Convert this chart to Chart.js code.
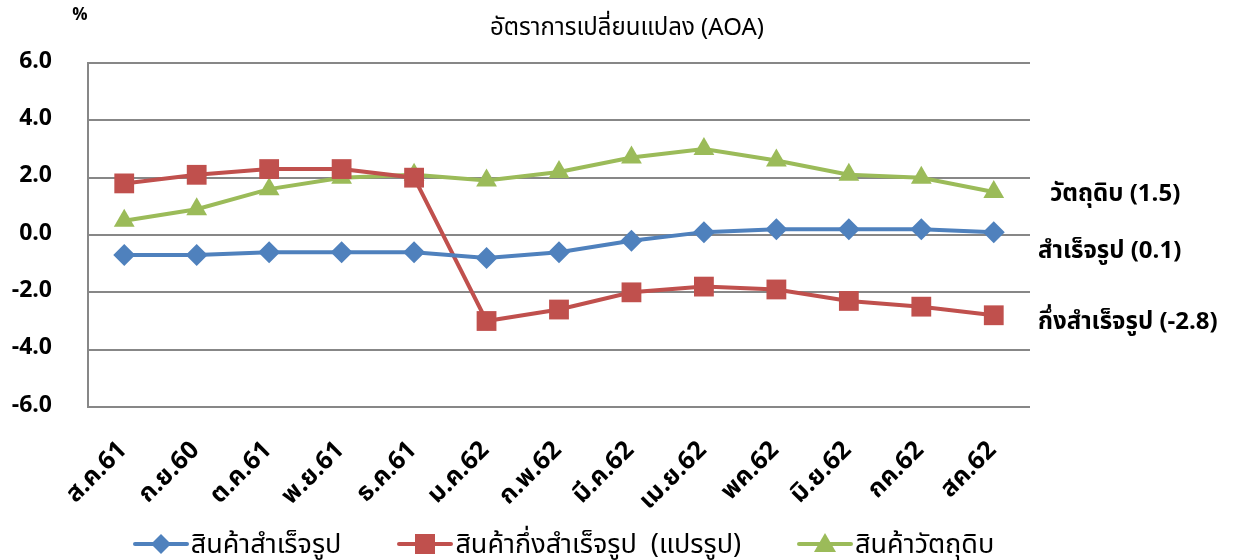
<!DOCTYPE html>
<html>
<head>
<meta charset="utf-8">
<script src="https://cdn.jsdelivr.net/npm/chart.js@4"></script>
<style>
  html, body { margin: 0; padding: 0; background: #fff; }
  #wrap { position: relative; width: 1239px; height: 560px; }
  #legend {
    position: absolute; left: 0; right: 0; top: 527px; height: 34px;
    display: flex; justify-content: center; align-items: center; gap: 56px;
    font-family: 'Noto Sans Thai', 'Noto Sans', 'DejaVu Sans', sans-serif;
    font-size: 27px; color: #000; padding-right: 112px;
  }
  .lg-item { display: flex; align-items: center; gap: 2px; white-space: pre; }
  .lg-item canvas { display: block; }
</style>
</head>
<body>
<div id="wrap">
  <canvas id="c" width="1239" height="560"></canvas>
  <div id="legend"></div>
</div>
<script>
/* ── ข้อมูล ── */
const months = ['ส.ค.61', 'ก.ย.60', 'ต.ค.61', 'พ.ย.61', 'ธ.ค.61', 'ม.ค.62', 'ก.พ.62',
  'มี.ค.62', 'เม.ย.62', 'พค.62', 'มิ.ย.62', 'กค.62', 'สค.62'];
const finished = [-0.7, -0.7, -0.6, -0.6, -0.6, -0.8, -0.6, -0.2, 0.1, 0.2, 0.2, 0.2, 0.1];
const semiFinished = [1.8, 2.1, 2.3, 2.3, 2.0, -3.0, -2.6, -2.0, -1.8, -1.9, -2.3, -2.5, -2.8];
const rawMaterial = [0.5, 0.9, 1.6, 2.0, 2.1, 1.9, 2.2, 2.7, 3.0, 2.6, 2.1, 2.0, 1.5];
const seriesNames = ['สินค้าสำเร็จรูป', 'สินค้ากึ่งสำเร็จรูป  (แปรรูป)', 'สินค้าวัตถุดิบ'];
const endLabels = ['สำเร็จรูป (0.1)', 'กึ่งสำเร็จรูป (-2.8)', 'วัตถุดิบ (1.5)'];
const yTicks = [-6, -4, -2, 0, 2, 4, 6];

const FONT = "'Noto Sans Thai', 'Noto Sans', 'DejaVu Sans', sans-serif";
const BLUE = '#4F81BD', RED = '#C0504D', GREEN = '#9BBB59', GRID = '#878787';

// ไอคอน legend: เส้น + marker
function legendIcon(color, shape) {
  const cv = document.createElement('canvas');
  cv.width = 56; cv.height = 24;
  const g = cv.getContext('2d');
  g.strokeStyle = color; g.lineWidth = 4; g.lineCap = 'round';
  g.beginPath(); g.moveTo(2, 12); g.lineTo(54, 12); g.stroke();
  g.fillStyle = color;
  g.beginPath();
  if (shape === 'rectRot') {
    g.moveTo(28, 2); g.lineTo(38, 12); g.lineTo(28, 22); g.lineTo(18, 12);
  } else if (shape === 'rect') {
    g.rect(18, 2, 20, 20);
  } else {
    g.moveTo(28, 1); g.lineTo(39, 20); g.lineTo(17, 20);
  }
  g.closePath(); g.fill();
  return cv;
}

// หัวเรื่อง, % และป้ายท้ายเส้น
const annotations = {
  id: 'annotations',
  afterDraw(chart) {
    const ctx = chart.ctx;
    const y = chart.scales.y;
    const right = chart.chartArea.right;
    ctx.save();
    ctx.fillStyle = '#000';
    ctx.font = '24px ' + FONT;
    ctx.textAlign = 'center';
    ctx.textBaseline = 'middle';
    ctx.fillText('อัตราการเปลี่ยนแปลง (AOA)', 627, 30);
    ctx.font = 'bold 17px ' + FONT;
    ctx.fillText('%', 80, 17);
    ctx.font = 'bold 24px ' + FONT;
    ctx.textAlign = 'left';
    ctx.fillText(endLabels[2], right + 20, y.getPixelForValue(1.35));
    ctx.fillText(endLabels[0], right + 8, y.getPixelForValue(-0.65));
    ctx.fillText(endLabels[1], right + 8, y.getPixelForValue(-3.1));
    ctx.restore();
  }
};

const ds = (label, data, color, style, r) => ({
  label, data,
  borderColor: color, backgroundColor: color,
  borderWidth: 4, tension: 0,
  pointStyle: style, pointRadius: r, pointHoverRadius: r,
  pointBackgroundColor: color, pointBorderColor: color, pointBorderWidth: 0
});

const chart = new Chart(document.getElementById('c'), {
  type: 'line',
  data: {
    labels: months,
    datasets: [
      ds(seriesNames[0], finished, BLUE, 'rectRot', 11),
      ds(seriesNames[1], semiFinished, RED, 'rect', 14),
      ds(seriesNames[2], rawMaterial, GREEN, 'triangle', 12)
    ]
  },
  options: {
    responsive: false,
    animation: false,
    layout: { padding: { left: 0, right: 209, top: 63, bottom: 45 } },
    plugins: {
      title: { display: false },
      tooltip: { enabled: false },
      legend: { display: false }
    },
    scales: {
      x: {
        offset: true,
        grid: { display: false, drawTicks: false },
        border: { display: false },
        afterFit(s) { s.height = 108; },
        ticks: {
          color: '#000', padding: 30,
          minRotation: 45, maxRotation: 45, autoSkip: false,
          font: { family: FONT, size: 25, weight: 'bold' }
        }
      },
      y: {
        min: -6, max: 6,
        afterFit(s) { s.width = 88; },
        afterBuildTicks(s) { s.ticks = yTicks.map(v => ({ value: v })); },
        grid: { color: GRID, lineWidth: 2, drawTicks: false },
        border: { display: true, color: GRID, width: 2 },
        ticks: {
          color: '#000', padding: 36,
          font: { family: FONT, size: 23, weight: 'bold' },
          callback: v => v.toFixed(1)
        }
      }
    }
  },
  plugins: [annotations]
});

/* ── legend แบบ HTML ── */
const legendEl = document.getElementById('legend');
chart.data.datasets.forEach(d => {
  const item = document.createElement('div');
  item.className = 'lg-item';
  item.appendChild(legendIcon(d.borderColor, d.pointStyle));
  const span = document.createElement('span');
  span.textContent = d.label;
  item.appendChild(span);
  legendEl.appendChild(item);
});
</script>
</body>
</html>
